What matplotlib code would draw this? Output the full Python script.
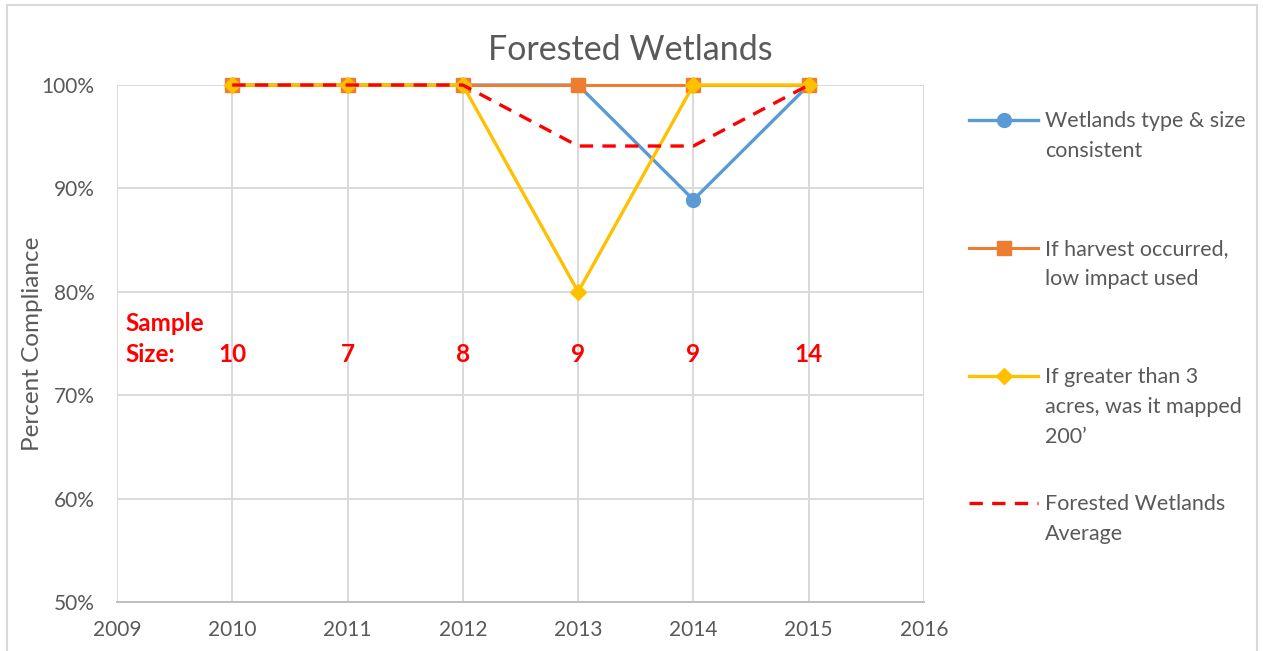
"""Forested Wetlands compliance chart."""

import matplotlib

matplotlib.use("Agg")

import matplotlib.pyplot as plt
from matplotlib.lines import Line2D
from matplotlib.ticker import FuncFormatter, MultipleLocator

plt.rcParams["font.family"] = ["Lato", "DejaVu Sans"]

years = [2010, 2011, 2012, 2013, 2014, 2015]
type_size = [100, 100, 100, 100, 88.9, 100]
low_impact = [100, 100, 100, 100, 100, 100]
mapped_200 = [100, 100, 100, 80, 100, 100]
average = [100, 100, 100, 94.1, 94.1, 100]
sample_sizes = [10, 7, 8, 9, 9, 14]

labels = [
    "Wetlands type & size\nconsistent",
    "If harvest occurred,\nlow impact used",
    "If greater than 3\nacres, was it mapped\n200\u2019",
    "Forested Wetlands\nAverage",
]

TEXT = "#595959"
GRID = "#D9D9D9"
BLUE = "#5B9BD5"
ORANGE = "#ED7D31"
YELLOW = "#FFC000"
RED = "#FF0000"

fig = plt.figure(figsize=(12.63, 6.51), dpi=100)
ax = fig.add_axes([0.0926, 0.0753, 0.639, 0.7941])
W, H = fig.get_size_inches() * fig.dpi

styles = [
    dict(color=BLUE, marker="o", markersize=10, lw=2.4),
    dict(color=ORANGE, marker="s", markersize=9.5, lw=2.2),
    dict(color=YELLOW, marker="D", markersize=8.5, lw=2.4),
    dict(color=RED, lw=2.4, ls=(0, (4, 2.8))),
]
series = [type_size, low_impact, mapped_200, average]
for vals, st in zip(series, styles):
    ax.plot(years, vals, clip_on=False, zorder=3, **st)

ax.set_xlim(2009, 2016)
ax.set_ylim(50, 100)
ax.xaxis.set_major_locator(MultipleLocator(1))
ax.yaxis.set_major_locator(MultipleLocator(10))
ax.yaxis.set_major_formatter(FuncFormatter(lambda v, _: f"{v:.0f}%"))
ax.grid(True, color=GRID, lw=1.4)
ax.set_axisbelow(True)
for side in ("top", "right", "left"):
    ax.spines[side].set_visible(False)
ax.spines["bottom"].set_color("#BFBFBF")
ax.spines["bottom"].set_linewidth(1.4)
ax.tick_params(length=0, labelsize=15, colors=TEXT, pad=13)
ax.tick_params(axis="y", pad=16)
ax.set_ylabel("Percent Compliance", fontsize=17.5, color=TEXT)
ax.yaxis.set_label_coords(-0.092, 0.5)

# title is centred on the whole chart area, not on the plot
fig.text(630 / W, 1 - 50 / H, "Forested Wetlands", fontsize=24.5, color=TEXT,
         ha="center", va="center")

# sample size annotations
red_txt = dict(color=RED, fontsize=17.5, fontweight="bold", va="center")
ax.text(2009.07, 76.9, "Sample", ha="left", **red_txt)
ax.text(2009.07, 73.9, "Size:", ha="left", **red_txt)
for yr, n in zip(years, sample_sizes):
    ax.text(yr, 73.9, str(n), ha="center", **red_txt)

# legend with handles aligned to the first text line
first_rows = [120, 248, 376, 503]
for row, st, lab in zip(first_rows, styles, labels):
    y = 1 - row / H
    line_style = {k: v for k, v in st.items() if k not in ("marker", "markersize")}
    fig.add_artist(Line2D([969 / W, 1038 / W], [y, y], transform=fig.transFigure,
                          **line_style))
    if "marker" in st:
        fig.add_artist(Line2D([1003.5 / W], [y], transform=fig.transFigure, ls="none",
                              marker=st["marker"], color=st["color"],
                              markersize=st["markersize"]))
    fig.text(1045 / W, 1 - (row - 9) / H, lab, fontsize=15.5, color=TEXT,
             ha="left", va="top", linespacing=1.62)

# outer chart border
fig.add_artist(plt.Rectangle((7 / W, -0.01), 1250 / W, 1 - 5 / H + 0.01,
                             transform=fig.transFigure, fill=False,
                             edgecolor="#D9D9D9", lw=1.5))

fig.savefig("out.png", dpi=100)
